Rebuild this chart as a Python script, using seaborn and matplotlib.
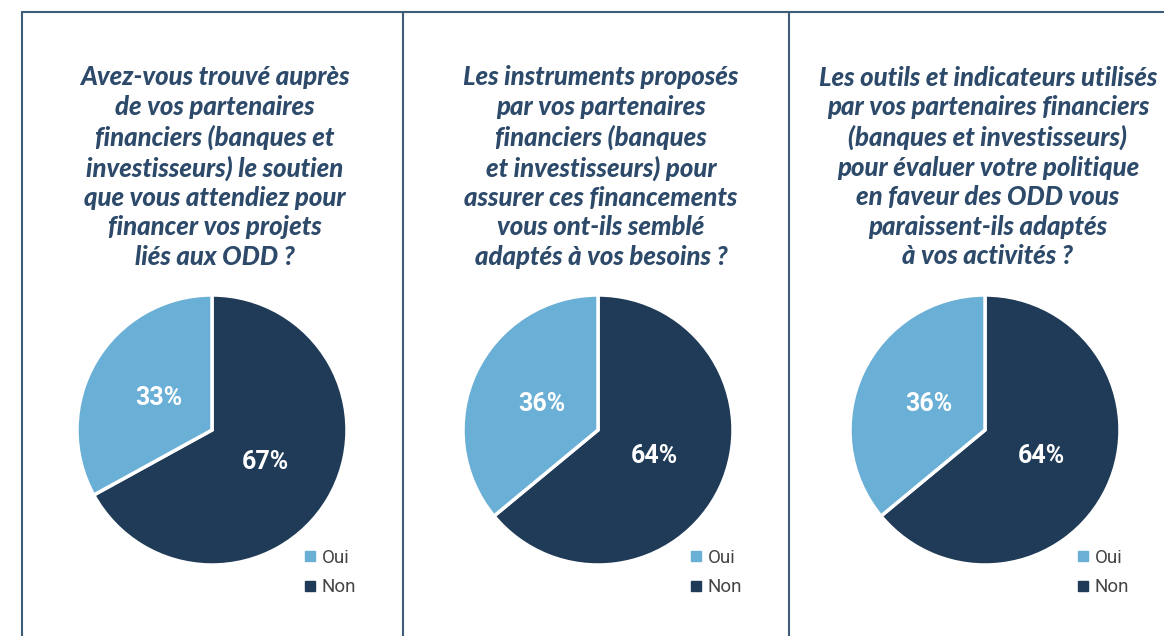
import numpy as np
import pandas as pd
import matplotlib
matplotlib.use("Agg")
import matplotlib.pyplot as plt
from matplotlib.lines import Line2D
import seaborn as sns

# data
questions = [
    "Avez-vous trouvé auprès\nde vos partenaires\nfinanciers (banques et\ninvestisseurs) le soutien\nque vous attendiez pour\nfinancer vos projets\nliés aux ODD ?",
    "Les instruments proposés\npar vos partenaires\nfinanciers (banques\net investisseurs) pour\nassurer ces financements\nvous ont-ils semblé\nadaptés à vos besoins ?",
    "Les outils et indicateurs utilisés\npar vos partenaires financiers\n(banques et investisseurs)\npour évaluer votre politique\nen faveur des ODD vous\nparaissent-ils adaptés\nà vos activités ?",
]
answers = ["Non", "Oui"]
non_pct = [67, 64, 64]
oui_pct = [33, 36, 36]

colors = {"Oui": "#6aafd6", "Non": "#1f3b57"}
title_color = "#2d4a6a"
line_color = "#3f5c78"

sns.set_theme(style="white")
plt.rcParams["font.family"] = ["Lato", "DejaVu Sans"]

W, H = 1164, 636
fig = plt.figure(figsize=(W / 100, H / 100), dpi=100)

# frame lines
fig.add_artist(Line2D([22 / W, 1], [1 - 12 / H, 1 - 12 / H], color=line_color, lw=1.5))
for xp in [22, 403, 789]:
    fig.add_artist(Line2D([xp / W, xp / W], [0, 1 - 12 / H], color=line_color, lw=1.5))

centers = [212, 598, 985]
cy, r = 430, 135
for i in range(3):
    cx = centers[i]
    ax = fig.add_axes([(cx - r) / W, (H - cy - r) / H, 2 * r / W, 2 * r / H])
    vals = [non_pct[i], oui_pct[i]]
    wedges, texts, autotexts = ax.pie(
        vals,
        colors=[colors[a] for a in answers],
        startangle=90,
        counterclock=False,
        autopct=lambda p: f"{p:.0f}%",
        pctdistance=0.46,
        wedgeprops=dict(edgecolor="white", linewidth=2.5),
        textprops=dict(color="white", fontsize=18, fontweight="bold",
                       family=["Roboto", "DejaVu Sans"]),
    )
    ax.set_xlim(-1.0, 1.0)
    ax.set_ylim(-1.0, 1.0)
    ax.set_aspect("equal")
    ax.axis("off")

    fig.text((cx + 3) / W, 1 - 167 / H, questions[i], ha="center", va="center",
             fontsize=18.5, fontweight="black", fontstyle="italic",
             color=title_color, linespacing=1.27)

    handles = [Line2D([], [], marker="s", linestyle="", markersize=7,
                      color=colors[a]) for a in ["Oui", "Non"]]
    fig.legend(handles, ["Oui", "Non"], loc="upper left",
               bbox_to_anchor=((cx + 72) / W, 1 - 532 / H),
               frameon=False, handletextpad=0.1,
               labelspacing=0.6, labelcolor="#444444", handlelength=1.0,
               prop=dict(family=["Roboto", "DejaVu Sans"], size=13.5))

fig.savefig("out.png", dpi=100)
